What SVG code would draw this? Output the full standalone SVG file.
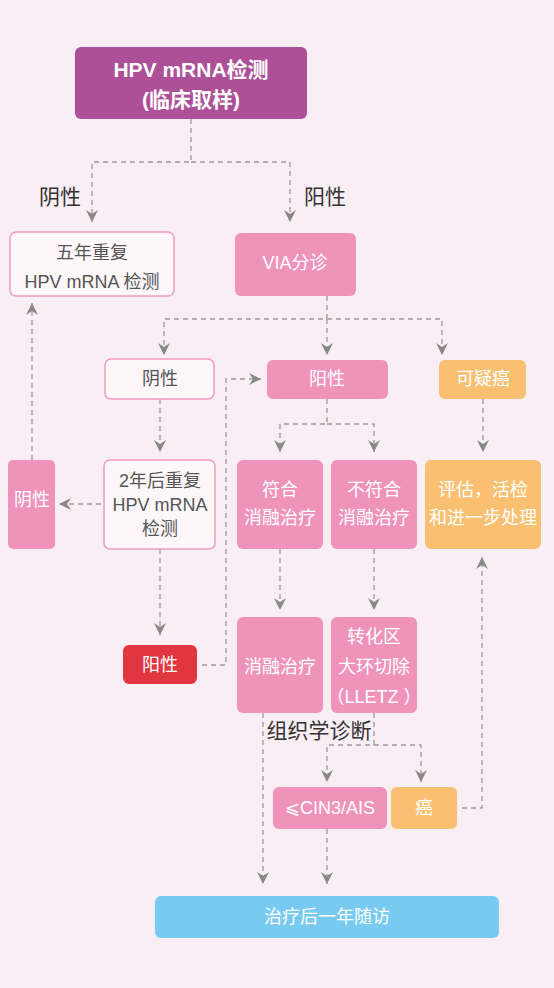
<svg xmlns="http://www.w3.org/2000/svg" width="554" height="988" viewBox="0 0 554 988">
<style>
text{font-family:"Liberation Sans","Noto Sans CJK SC",sans-serif;text-anchor:middle;dominant-baseline:central}
.w{fill:#ffffff;font-size:18px}
.g{fill:#555555;font-size:18px}
.lbl{fill:#333333;font-size:21px}
.pink{fill:#ef93bb}
.orange{fill:#f8c070}
.outline{fill:#fdf7fa;stroke:#f09cbf;stroke-width:1.5}
.c path{fill:none;stroke:#9a9a9a;stroke-width:1.3;stroke-dasharray:5 4}
.c path.a{marker-end:url(#arr)}
</style>
<defs>
<marker id="arr" markerUnits="userSpaceOnUse" markerWidth="14" markerHeight="14" viewBox="0 0 14 14" refX="13" refY="7" orient="auto">
<path d="M1,1 L13,7 L1,13 L5,7 Z" fill="#888888"/>
</marker>
</defs>
<rect width="554" height="988" fill="#f9eef4"/>
<g class="c" id="connectors">
<path class="a" d="M191,119 V162 H92 V222"/>
<path class="a" d="M191,162 H290 V222"/>
<path class="a" d="M327,296 V319 H164 V355"/>
<path class="a" d="M327,319 V355"/>
<path class="a" d="M327,319 H442 V355"/>
<path class="a" d="M160,399 V452"/>
<path class="a" d="M101,504 H59"/>
<path class="a" d="M32,460 V303"/>
<path class="a" d="M160,549 V635"/>
<path class="a" d="M202,665 H226 V379 H261"/>
<path class="a" d="M327,399 V424 H280 V452"/>
<path class="a" d="M327,424 H374 V452"/>
<path class="a" d="M483,399 V452"/>
<path class="a" d="M280,549 V610"/>
<path class="a" d="M374,549 V610"/>
<path class="a" d="M263,713 V884"/>
<path class="a" d="M374,713 V745 H327 V782"/>
<path class="a" d="M374,745 H421 V782"/>
<path class="a" d="M327,829 V884"/>
<path class="a" d="M462,808 H482 V557"/>
</g>
<g id="n-hpv">
<rect x="75" y="47" width="232" height="72" rx="6" fill="#ae5098"/>
<text x="191" y="69" fill="#fff" font-size="21" font-weight="bold">HPV mRNA检测</text>
<text x="191" y="99" fill="#fff" font-size="21" font-weight="bold">(临床取样)</text>
</g>
<g id="l-neg"><text class="lbl" x="60" y="196">阴性</text></g>
<g id="l-pos"><text class="lbl" x="325" y="196">阳性</text></g>
<g id="n-5yr">
<rect class="outline" x="10" y="232" width="164" height="64" rx="6"/>
<text class="g" x="92" y="253">五年重复</text>
<text class="g" x="92" y="282">HPV mRNA 检测</text>
</g>
<g id="n-via">
<rect class="pink" x="235" y="233" width="121" height="63" rx="6"/>
<text class="w" x="295" y="263">VIA分诊</text>
</g>
<g id="n-vneg">
<rect class="outline" x="105" y="359" width="109" height="40" rx="6"/>
<text class="g" x="160" y="379">阴性</text>
</g>
<g id="n-vpos">
<rect class="pink" x="267" y="360" width="121" height="39" rx="6"/>
<text class="w" x="327" y="379">阳性</text>
</g>
<g id="n-sus">
<rect class="orange" x="439" y="360" width="87" height="39" rx="6"/>
<text class="w" x="483" y="379">可疑癌</text>
</g>
<g id="n-neg2">
<rect class="pink" x="8" y="460" width="47" height="89" rx="5"/>
<text class="w" x="32" y="500">阴性</text>
</g>
<g id="n-2yr">
<rect class="outline" x="104" y="460" width="111" height="89" rx="6"/>
<text class="g" x="160" y="481">2年后重复</text>
<text class="g" x="160" y="505">HPV mRNA</text>
<text class="g" x="160" y="529">检测</text>
</g>
<g id="n-fit">
<rect class="pink" x="237" y="460" width="86" height="89" rx="6"/>
<text class="w" x="280" y="490">符合</text>
<text class="w" x="280" y="518">消融治疗</text>
</g>
<g id="n-unfit">
<rect class="pink" x="331" y="460" width="86" height="89" rx="6"/>
<text class="w" x="374" y="490">不符合</text>
<text class="w" x="374" y="518">消融治疗</text>
</g>
<g id="n-eval">
<rect class="orange" x="425" y="460" width="116" height="89" rx="6"/>
<text class="w" x="483" y="490">评估，活检</text>
<text class="w" x="483" y="518">和进一步处理</text>
</g>
<g id="n-red">
<rect x="123" y="645" width="74" height="39" rx="6" fill="#e1353f"/>
<text class="w" x="160" y="665">阳性</text>
</g>
<g id="n-abl">
<rect class="pink" x="237" y="617" width="86" height="96" rx="6"/>
<text class="w" x="280" y="667">消融治疗</text>
</g>
<g id="n-lletz">
<rect class="pink" x="331" y="617" width="86" height="96" rx="6"/>
<text class="w" x="374" y="637">转化区</text>
<text class="w" x="374" y="667">大环切除</text>
<text class="w" x="374" y="697">（LLETZ ）</text>
</g>
<g id="l-histo"><text class="lbl" x="319" y="730" font-size="20">组织学诊断</text></g>
<g id="n-cin">
<rect class="pink" x="273" y="787" width="114" height="42" rx="6"/>
<text class="w" x="330" y="808">⩽CIN3/AIS</text>
</g>
<g id="n-cancer">
<rect class="orange" x="391" y="787" width="66" height="42" rx="6"/>
<text class="w" x="424" y="808">癌</text>
</g>
<g id="n-follow">
<rect x="155" y="896" width="344" height="42" rx="6" fill="#78caf1"/>
<text class="w" x="327" y="917">治疗后一年随访</text>
</g>
</svg>
